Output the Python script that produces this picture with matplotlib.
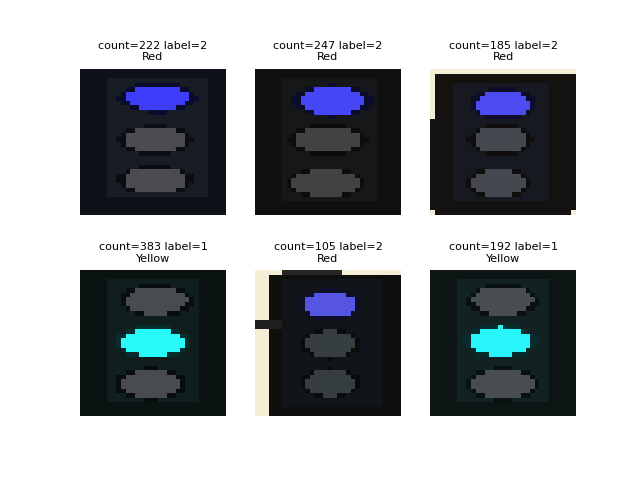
import numpy as np
import matplotlib
matplotlib.use('Agg')
import matplotlib.pyplot as plt

# sample info shown in the titles
counts = [222, 247, 185, 383, 105, 192]
labels = [2, 2, 2, 1, 2, 1]
names = ['Red', 'Red', 'Red', 'Yellow', 'Red', 'Yellow']

# which lamp is lit (0 = top) and its colour as it appears in the picture
lit_lamp = [0, 0, 0, 1, 0, 1]
lit_rgb = [(62, 62, 250), (70, 70, 245), (75, 75, 240),
           (40, 250, 250), (85, 85, 225), (40, 245, 250)]
off_rgb = [(75, 75, 82), (66, 66, 66), (70, 72, 80),
           (72, 76, 78), (55, 62, 64), (72, 78, 80)]
bg_rgb = [(14, 17, 24), (16, 16, 16), (20, 18, 16),
          (10, 18, 18), (14, 14, 12), (12, 20, 20)]
housing_rgb = [(24, 28, 36), (21, 23, 24), (22, 25, 32),
               (16, 30, 30), (17, 20, 24), (18, 34, 34)]

# lamp centre rows / cols in the 32x32 source image
lamp_rows = [[6.3, 15.6, 24.3], [7.0, 15.5, 25.0], [7.7, 15.5, 25.0],
             [6.7, 15.8, 25.0], [7.6, 16.2, 24.8], [6.7, 15.6, 25.0]]
lamp_cols = [[17.0, 16.5, 16.5], [17.0, 16.0, 15.5], [16.0, 15.5, 15.0],
             [16.8, 16.0, 15.5], [16.5, 16.5, 16.5], [16.0, 15.5, 16.0]]
lamp_halfw = [7.0, 7.2, 6.0, 6.8, 5.6, 6.6]
lamp_halfh = [2.7, 2.9, 2.8, 3.0, 2.8, 3.1]
# housing box: top, bottom, left, right
housing_box = [(1.6, 28.5, 5.8, 28.0), (2.0, 29.0, 6.0, 27.0), (2.5, 29.5, 5.0, 26.0),
               (2.0, 29.0, 6.0, 26.0), (1.5, 30.0, 6.0, 28.0), (1.5, 29.5, 6.0, 26.0)]
# bright cream window frame in some crops: (top rows, left cols, band rows)
frame = [None, None, (1.2, 1.2, 11.0), None, (1.0, 3.5, 32.0), None]
cream = (245, 238, 215)

N = 32


def make_light(i):
    rr, cc = np.mgrid[0:N, 0:N] + 0.5
    img = np.zeros((N, N, 3))
    img[:] = bg_rgb[i]
    t, b, l, r = housing_box[i]
    box = (rr > t) & (rr < b) & (cc > l) & (cc < r)
    img[box] = housing_rgb[i]
    for k in range(3):
        d = ((rr - lamp_rows[i][k]) / lamp_halfh[i]) ** 2 + \
            ((cc - lamp_cols[i][k]) / lamp_halfw[i]) ** 2
        if k == lit_lamp[i]:
            halo = (d < 1.5) & (d >= 1.0)
            img[halo] = np.array(lit_rgb[i]) * 0.18
            img[d < 1.0] = lit_rgb[i]
        else:
            img[(d < 1.4) & (d >= 1.0)] = np.array(bg_rgb[i]) * 0.8
            img[d < 1.0] = off_rgb[i]
    if frame[i] is not None:
        ft, fl, fb = frame[i]
        img[(rr < ft)] = cream
        img[(cc < fl) & (rr < fb)] = cream
        if i == 4:
            img[(rr > 11) & (rr < 13) & (cc < 6)] = (30, 30, 30)
            img[(rr < 1.0) & (cc > 6) & (cc < 19)] = (40, 38, 34)
        if i == 2:
            img[(rr > 30.5) & ((cc < 1.5) | (cc > 30.5))] = cream
    return img.astype(np.uint8)


fig = plt.figure(figsize=(6.4, 4.8), dpi=100)
for i in range(6):
    ax = fig.add_subplot(2, 3, i + 1)
    ax.imshow(make_light(i))
    ax.set_title('count=%d label=%d\n%s' % (counts[i], labels[i], names[i]), fontsize=8)
    ax.axis('off')

plt.savefig('out.png')
